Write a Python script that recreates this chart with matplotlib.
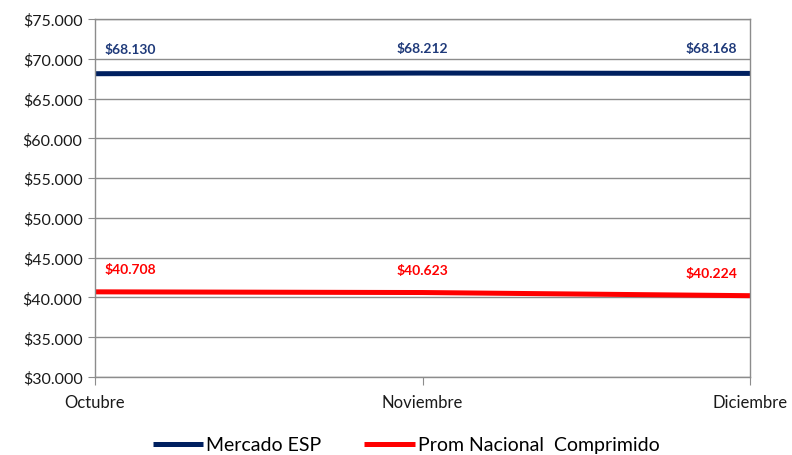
import matplotlib
matplotlib.use("Agg")
import matplotlib.pyplot as plt
from matplotlib.ticker import FuncFormatter

# data
meses = ["Octubre", "Noviembre", "Diciembre"]
mercado_esp = [68130, 68212, 68168]
prom_nacional = [40708, 40623, 40224]

plt.rcParams['font.family'] = ['Lato', 'DejaVu Sans']

def pesos(v, pos=None):
    return "$" + f"{v:,.0f}".replace(",", ".")

fig = plt.figure(figsize=(7.92, 4.56), dpi=100)
ax = fig.add_axes([0.12, 0.171, 0.827, 0.785])

x = list(range(len(meses)))
ax.plot(x, mercado_esp, color="#002060", lw=3.6, label="Mercado ESP", solid_capstyle="butt")
ax.plot(x, prom_nacional, color="#FF0000", lw=3.6, label="Prom Nacional  Comprimido", solid_capstyle="butt")

ax.set_xlim(0, 2)
ax.set_ylim(30000, 75000)
ax.set_yticks(range(30000, 75001, 5000))
ax.yaxis.set_major_formatter(FuncFormatter(pesos))
ax.set_xticks(x)
ax.set_xticklabels(meses)

ax.grid(axis="y", color="#8c8c8c", lw=1)
ax.set_axisbelow(True)
for s in ax.spines.values():
    s.set_color("#8c8c8c")
    s.set_linewidth(1)
ax.tick_params(axis="y", length=5, color="#8c8c8c", labelsize=11.5, pad=4, labelcolor="#1a1a1a")
ax.tick_params(axis="x", length=6, color="#8c8c8c", labelsize=12, pad=6, labelcolor="#1a1a1a")

# data labels
aligns = [("left", 10), ("center", 0), ("right", -13)]
for serie, col, dy in [(mercado_esp, "#1F3A7A", 25), (prom_nacional, "#FF0000", 23)]:
    for i, v in enumerate(serie):
        ha, dx = aligns[i]
        ax.annotate(pesos(v), (i, v), xytext=(dx, dy), textcoords="offset pixels",
                    ha=ha, va="center", fontsize=10, fontweight="bold", color=col,
                    annotation_clip=False)

fig.legend(loc="center", bbox_to_anchor=(0.513, 0.022), ncol=2, frameon=False,
           fontsize=14, handlelength=2.6, handletextpad=0.15, columnspacing=2.2)

fig.savefig("out.png", dpi=100)
